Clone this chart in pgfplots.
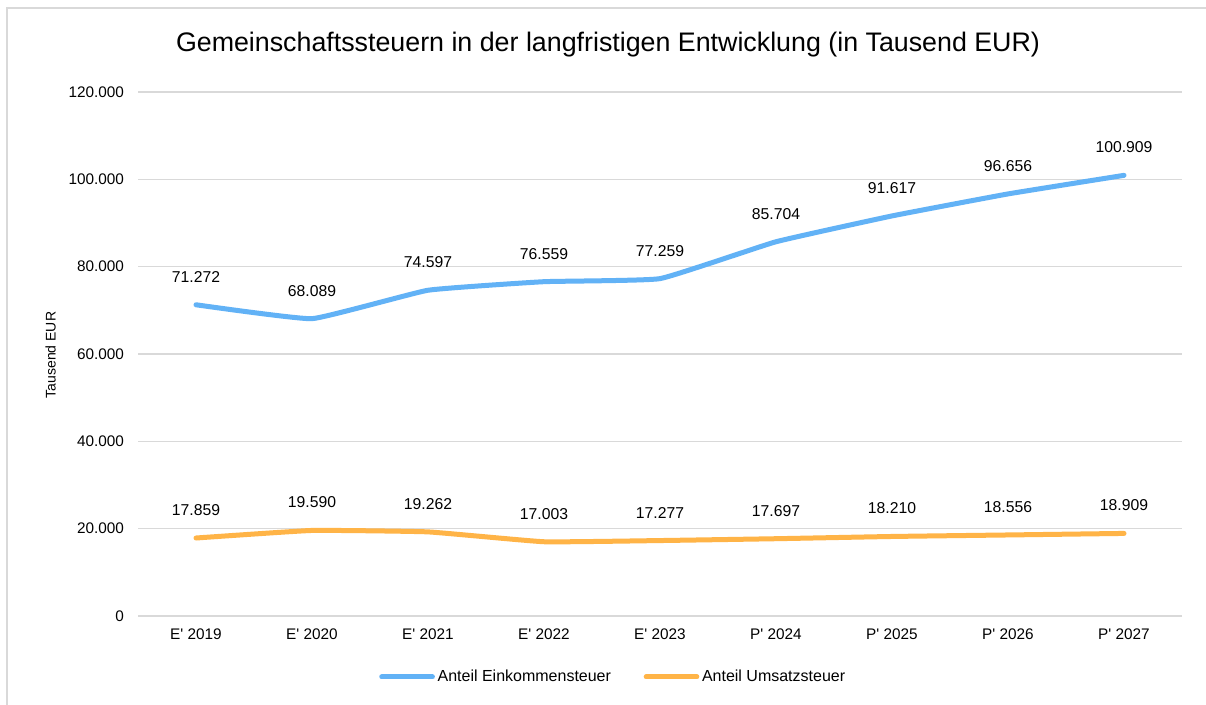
\documentclass[border=0pt]{standalone}
\usepackage{fontspec}
\setmainfont{Liberation Sans}
\usepackage{pgfplots}
\pgfplotsset{compat=1.18}
\definecolor{einkblue}{RGB}{98,178,246}
\definecolor{umsorange}{RGB}{255,180,71}
\definecolor{gridgray}{RGB}{217,217,217}
\newcommand{\q}{\textquotesingle}
\begin{document}
\begin{tikzpicture}[x=1pt,y=1pt]
\useasboundingbox (0,0) rectangle (904.5,528.75);
\fill[white] (0,0) rectangle (904.5,528.75);
\draw[gridgray, line width=1.5pt] (5.25,-5) -- (5.25,522.75) -- (910,522.75);
\node[font=\fontsize{20.1}{23}\selectfont] at (456,495) {Gemeinschaftssteuern in der langfristigen Entwicklung (in Tausend EUR)};
\node[font=\fontsize{10.5}{12}\selectfont, rotate=90] at (38,262.5) {Tausend EUR};
\begin{axis}[
  at={(103.5pt,66.75pt)}, anchor=south west,
  scale only axis, width=783pt, height=393pt,
  xmin=-0.5, xmax=8.5, ymin=0, ymax=120000,
  axis line style={draw=none},
  tick style={draw=none},
  ymajorgrids, grid style={color=gridgray, line width=1.1pt},
  xtick={0,...,8},
  xticklabels={E\q{} 2019,E\q{} 2020,E\q{} 2021,E\q{} 2022,E\q{} 2023,P\q{} 2024,P\q{} 2025,P\q{} 2026,P\q{} 2027},
  ytick={0,20000,40000,60000,80000,100000,120000},
  yticklabels={0,20.000,40.000,60.000,80.000,100.000,120.000},
  ticklabel style={font=\fontsize{11.5}{13}\selectfont, text=black},
  yticklabel style={xshift=-7pt},
  xticklabel style={yshift=-6pt},
  scaled y ticks=false,
  clip=false,
  legend columns=2,
  legend style={at={(0.4555,-0.1164)}, anchor=center, draw=none, fill=none,
    font=\fontsize{12}{14}\selectfont,
    /tikz/every even column/.append style={column sep=22.5pt},
    nodes={inner xsep=2pt}},
  legend image code/.code={\draw[line width=3.75pt, line cap=round] (0pt,0pt) -- (38pt,0pt);},
  every node near coord/.append style={font=\fontsize{11.8}{13}\selectfont, text=black, anchor=center, yshift=21pt},
]
\addplot[einkblue, line width=3.75pt, line cap=round, line join=round, smooth, tension=0.2,
  nodes near coords, point meta=explicit symbolic]
  coordinates {(0,71272) [71.272] (1,68089) [68.089] (2,74597) [74.597] (3,76559) [76.559] (4,77259) [77.259] (5,85704) [85.704] (6,91617) [91.617] (7,96656) [96.656] (8,100909) [100.909]};
\addlegendentry{Anteil Einkommensteuer}
\addplot[umsorange, line width=3.75pt, line cap=round, line join=round, smooth, tension=0.2,
  nodes near coords, point meta=explicit symbolic]
  coordinates {(0,17859) [17.859] (1,19590) [19.590] (2,19262) [19.262] (3,17003) [17.003] (4,17277) [17.277] (5,17697) [17.697] (6,18210) [18.210] (7,18556) [18.556] (8,18909) [18.909]};
\addlegendentry{Anteil Umsatzsteuer}
\end{axis}
\end{tikzpicture}
\end{document}
